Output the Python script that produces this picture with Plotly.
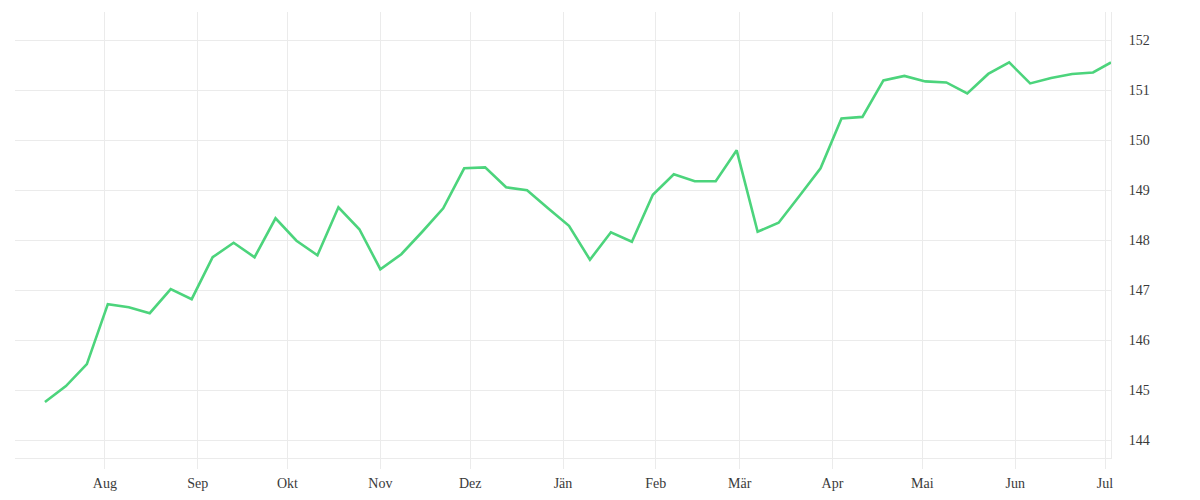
import plotly.graph_objects as go

dates = [
    "2024-07-12", "2024-07-19", "2024-07-26", "2024-08-02", "2024-08-09", "2024-08-16",
    "2024-08-23", "2024-08-30", "2024-09-06", "2024-09-13", "2024-09-20", "2024-09-27",
    "2024-10-04", "2024-10-11", "2024-10-18", "2024-10-25", "2024-11-01", "2024-11-08",
    "2024-11-15", "2024-11-22", "2024-11-29", "2024-12-06", "2024-12-13", "2024-12-20",
    "2024-12-27", "2025-01-03", "2025-01-10", "2025-01-17", "2025-01-24", "2025-01-31",
    "2025-02-07", "2025-02-14", "2025-02-21", "2025-02-28", "2025-03-07", "2025-03-14",
    "2025-03-21", "2025-03-28", "2025-04-04", "2025-04-11", "2025-04-18", "2025-04-25",
    "2025-05-02", "2025-05-09", "2025-05-16", "2025-05-23", "2025-05-30", "2025-06-06",
    "2025-06-13", "2025-06-20", "2025-06-27", "2025-07-03",
]
values = [
    144.76, 145.08, 145.52, 146.72, 146.66, 146.54, 147.02, 146.82, 147.66, 147.95,
    147.66, 148.44, 147.99, 147.70, 148.66, 148.22, 147.42, 147.72, 148.17, 148.64,
    149.44, 149.46, 149.06, 149.00, 148.64, 148.29, 147.61, 148.16, 147.97, 148.91,
    149.32, 149.18, 149.18, 149.80, 148.17, 148.35, 148.89, 149.44, 150.44, 150.47,
    151.20, 151.29, 151.18, 151.16, 150.94, 151.33, 151.56, 151.14, 151.25, 151.33,
    151.36, 151.56,
]
month_ticks = [
    "2024-08-01", "2024-09-01", "2024-10-01", "2024-11-01", "2024-12-01", "2025-01-01",
    "2025-02-01", "2025-03-01", "2025-04-01", "2025-05-01", "2025-06-01", "2025-07-01",
]
month_labels = ["Aug", "Sep", "Okt", "Nov", "Dez", "Jän", "Feb", "Mär", "Apr", "Mai", "Jun", "Jul"]
y_ticks = [144, 145, 146, 147, 148, 149, 150, 151, 152]

GRID = "#ebebeb"
TEXT = "#3a3a3a"
FONT = "Liberation Serif"

fig = go.Figure(
    go.Scatter(
        x=dates,
        y=values,
        mode="lines",
        line=dict(color="#4cd47c", width=2.6),
        hoverinfo="x+y",
    )
)

fig.update_layout(
    width=1200,
    height=500,
    margin=dict(l=7, r=97, t=4, b=50),
    paper_bgcolor="white",
    plot_bgcolor="white",
    showlegend=False,
    font=dict(family=FONT, size=14, color=TEXT),
)

fig.update_xaxes(
    range=["2024-07-02", "2025-07-03"],
    tickvals=month_ticks,
    ticktext=month_labels,
    showgrid=True,
    gridcolor=GRID,
    gridwidth=1,
    showline=True,
    linecolor=GRID,
    linewidth=1,
    ticks="outside",
    ticklen=10,
    tickcolor=GRID,
    tickwidth=1,
    ticklabelstandoff=2,
    zeroline=False,
    tickfont=dict(family=FONT, size=14, color=TEXT),
)

fig.update_yaxes(
    side="right",
    range=[143.64, 152.57],
    tickvals=y_ticks,
    showgrid=True,
    gridcolor=GRID,
    gridwidth=1,
    showline=True,
    linecolor=GRID,
    linewidth=1,
    ticks="",
    ticklabelstandoff=14,
    zeroline=False,
    tickfont=dict(family=FONT, size=14, color=TEXT),
)

fig.write_html("out.html")
